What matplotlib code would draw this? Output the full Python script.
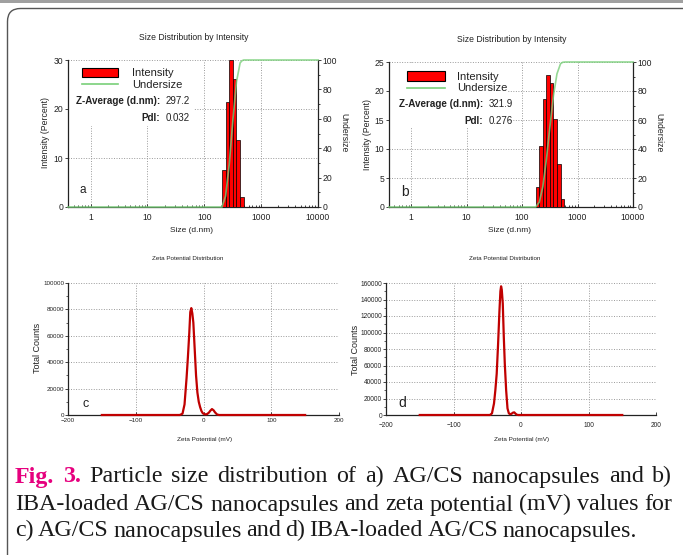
import matplotlib
matplotlib.use('Agg')
import matplotlib.pyplot as plt
from matplotlib.patches import Rectangle, FancyBboxPatch
from matplotlib.ticker import FixedLocator, NullFormatter, StrMethodFormatter, MultipleLocator

plt.rcParams['font.family'] = ['Liberation Sans', 'DejaVu Sans']

# ---- data ----
# size distribution (Malvern size classes, d.nm) and intensity (%)
size_a = [220.2, 255.0, 295.3, 342.0, 396.1, 458.7]
intensity_a = [7.5, 21.5, 30.0, 26.2, 13.6, 2.0]
under_size_a = [0.4, 204.7, 237.0, 274.6, 318.0, 368.3, 426.5, 460.0, 494.0, 530.0, 10000]
undersize_a = [0, 0, 7.5, 29.0, 59.0, 85.2, 98.0, 99.5, 100, 100, 100]

size_b = [190.1, 220.2, 255.0, 295.3, 342.0, 396.1, 458.7, 531.2]
intensity_b = [3.4, 10.6, 18.7, 22.7, 21.3, 15.2, 7.4, 1.3]
under_size_b = [0.4, 176.6, 204.7, 237.0, 274.6, 318.0, 368.3, 426.5, 494.0, 540.0, 600.0, 10000]
undersize_b = [0, 0, 3.4, 14.0, 32.7, 55.4, 76.7, 91.9, 98.8, 99.8, 100, 100]

size_ticks = [1, 10, 100, 1000, 10000]
size_ticklabels = ['1', '10', '100', '1000', '10000']

# zeta potential (mV) vs total counts
zeta_c = [-150, -35, -31, -28, -25, -23, -21, -19.5, -18, -16.5, -15, -13, -11, -9, -7, -5,
          -3, -1, 2, 5, 8, 10, 12.5, 15, 17, 20, 23, 150]
counts_c = [0, 0, 1000, 8000, 28000, 44000, 62000, 78000, 81000, 77000, 70000, 50000, 30000,
            17000, 10000, 6000, 3000, 1300, 500, 600, 1800, 3200, 4500, 3500, 2000, 400, 0, 0]

zeta_d = [-150, -46, -43, -40, -38, -36, -34, -32, -30.5, -29.5, -28.5, -27, -25.5, -24, -22,
          -20, -18, -16, -14, -12, -10, -8, -6, -4, 150]
counts_d = [0, 0, 2000, 14000, 30000, 50000, 85000, 125000, 150000, 156000, 152000, 135000,
            95000, 62000, 30000, 8000, 2000, 1000, 1500, 2800, 3200, 1500, 300, 0, 0]

zeta_ticks = [-200, -100, 0, 100, 200]

caption_lines = [
    "Fig. 3. Particle size distribution of a) AG/CS nanocapsules and b)",
    "IBA-loaded AG/CS nanocapsules and zeta potential (mV) values for",
    "c) AG/CS nanocapsules and d) IBA-loaded AG/CS nanocapsules.",
]

W, H = 683, 555
fig = plt.figure(figsize=(W / 100, H / 100), dpi=100)

RED = '#ff0000'
GREEN = '#79cf79'
DARK = '#222222'
GRID = dict(color='#9a9a9a', linestyle=(0, (1, 1.6)), linewidth=0.7)
EDGE = 1.0761  # half class width (ratio) on the log axis


def rect(l, t, r, b):
    return [l / W, 1 - b / H, (r - l) / W, (b - t) / H]


# background frame
bg = fig.add_axes([0, 0, 1, 1], zorder=-5)
bg.set_xlim(0, W)
bg.set_ylim(H, 0)
bg.axis('off')
bg.add_patch(FancyBboxPatch((7.5, 8.5), 690, 560, boxstyle='round,pad=0,rounding_size=13',
                            fc='white', ec='#555555', lw=1.0))
bg.add_patch(Rectangle((0, 0), W, 2.5, fc='#a0a0a0', ec='none'))


def size_panel(pos, classes, inten, usz, und, ymax, ystep, box):
    ax = fig.add_axes(pos)
    ax.set_xscale('log')
    ax.set_xlim(0.4, 10000)
    ax.set_ylim(0, ymax)
    lo = [c / EDGE for c in classes]
    wd = [c * EDGE - c / EDGE for c in classes]
    ax.bar(lo, inten, width=wd, align='edge', color=RED, edgecolor='black', linewidth=0.5, zorder=3)
    ax.xaxis.set_major_locator(FixedLocator(size_ticks))
    ax.set_xticklabels(size_ticklabels)
    ax.xaxis.set_minor_formatter(NullFormatter())
    ax.yaxis.set_major_locator(MultipleLocator(ystep))
    ax.set_axisbelow(True)
    ax.grid(True, which='major', **GRID)
    ax.add_patch(Rectangle((0.005, box[1]), box[0], 0.99 - box[1], transform=ax.transAxes,
                           fc='white', ec='none', zorder=1.2))
    for s in ['top', 'right']:
        ax.spines[s].set_visible(False)
    for s in ['left', 'bottom']:
        ax.spines[s].set_color(DARK)
        ax.spines[s].set_linewidth(0.9)
    ax.tick_params(axis='x', which='major', direction='in', length=2.5, width=0.6,
                   labelsize=6.2, pad=4, colors=DARK)
    ax.tick_params(axis='x', which='minor', direction='in', length=1.8, width=0.6, colors=DARK)
    ax.tick_params(axis='y', direction='out', length=2.5, width=0.6, labelsize=6.2, pad=1,
                   colors=DARK)

    ax2 = ax.twinx()
    ax2.set_ylim(0, 100)
    ax2.plot(usz, und, color=GREEN, lw=1.2, alpha=0.8, clip_on=False, zorder=4)
    for s in ['top', 'left', 'bottom']:
        ax2.spines[s].set_visible(False)
    ax2.spines['right'].set_color(DARK)
    ax2.spines['right'].set_linewidth(0.9)
    ax2.yaxis.set_major_locator(MultipleLocator(20))
    ax2.yaxis.set_minor_locator(MultipleLocator(10))
    ax2.tick_params(axis='y', which='major', direction='out', length=2.5, width=0.6,
                    labelsize=6.2, pad=1, colors=DARK)
    ax2.tick_params(axis='y', which='minor', direction='out', length=1.5, width=0.6, colors=DARK)
    return ax


def zeta_panel(pos, mv, counts, ymax, ystep, fs, xpad):
    ax = fig.add_axes(pos)
    ax.plot(mv, counts, color='#c00000', lw=1.6, clip_on=False, zorder=3,
            solid_joinstyle='round')
    ax.set_xlim(-200, 200)
    ax.set_ylim(0, ymax)
    ax.xaxis.set_major_locator(FixedLocator(zeta_ticks))
    ax.yaxis.set_major_locator(MultipleLocator(ystep))
    ax.yaxis.set_minor_locator(MultipleLocator(ystep / 2))
    ax.yaxis.set_major_formatter(StrMethodFormatter('{x:.0f}'))
    ax.set_axisbelow(True)
    ax.grid(True, which='major', **GRID)
    for s in ['top', 'right']:
        ax.spines[s].set_visible(False)
    for s in ['left', 'bottom']:
        ax.spines[s].set_color(DARK)
        ax.spines[s].set_linewidth(0.9)
    ax.tick_params(axis='x', direction='in', length=2, width=0.6, labelsize=fs, pad=xpad,
                   colors=DARK)
    ax.tick_params(axis='y', which='major', direction='out', length=2, width=0.6,
                   labelsize=fs, pad=0.8, colors=DARK)
    ax.tick_params(axis='y', which='minor', direction='out', length=1.3, width=0.5, colors=DARK)
    return ax


size_panel(rect(68, 60, 318, 207), size_a, intensity_a, under_size_a, undersize_a, 30, 10,
           (0.5, 0.55))
size_panel(rect(389, 62, 633, 207), size_b, intensity_b, under_size_b, undersize_b, 25, 5,
           (0.48, 0.55))
zeta_panel(rect(68, 283, 339, 415), zeta_c, counts_c, 100000, 20000, 4.5, 2.2)
zeta_panel(rect(386, 283, 656, 415), zeta_d, counts_d, 160000, 20000, 4.7, 5)

# overlay in pixel coordinates for titles, labels, legends
ov = fig.add_axes([0, 0, 1, 1], zorder=20)
ov.set_xlim(0, W)
ov.set_ylim(H, 0)
ov.axis('off')

def t(x, y, s, **kw):
    kw.setdefault('ha', 'center')
    kw.setdefault('va', 'center')
    kw.setdefault('color', DARK)
    return ov.text(x, y, s, **kw)

# titles and axis labels
t(194, 38, 'Size Distribution by Intensity', fontsize=6.2)
t(512, 40, 'Size Distribution by Intensity', fontsize=6.2)
t(192, 230, 'Size (d.nm)', fontsize=6)
t(510, 230, 'Size (d.nm)', fontsize=6)
t(45, 133, 'Intensity (Percent)', fontsize=6.2, rotation=90)
t(367, 135, 'Intensity (Percent)', fontsize=6.2, rotation=90)
t(344, 133, 'Undersize', fontsize=6.2, rotation=270)
t(659, 133, 'Undersize', fontsize=6.2, rotation=270)

t(188, 259, 'Zeta Potential Distribution', fontsize=4.5)
t(505, 259, 'Zeta Potential Distribution', fontsize=4.5)
t(205, 439, 'Zeta Potential (mV)', fontsize=4.6)
t(522, 439, 'Zeta Potential (mV)', fontsize=4.6)
t(38, 348, 'Total Counts', fontsize=6.5, rotation=90)
t(355, 350, 'Total Counts', fontsize=6.5, rotation=90)

# panel letters
t(83, 190, 'a', fontsize=8.5)
t(405, 192, 'b', fontsize=10)
t(86, 404, 'c', fontsize=9)
t(402, 403, 'd', fontsize=10)

# legends / statistics
for (rx, ry, rw, rh, ly, tx, ty1, ty2, zr, zy, py, zval, pval) in [
        (82, 68, 36, 9, 84.3, 132, 73.3, 85.0, 160, 101, 117.7, '297.2', '0.032'),
        (407, 71, 38, 10, 87.7, 457, 76.7, 88.3, 483, 104.3, 120.7, '321.9', '0.276')]:
    ov.add_patch(Rectangle((rx, ry), rw, rh, fc=RED, ec='black', lw=0.8))
    ov.plot([rx, rx + rw], [ly, ly], color=GREEN, lw=1.2)
    t(tx, ty1, 'Intensity', fontsize=8, ha='left')
    t(tx, ty2, 'Undersize', fontsize=8, ha='left')
    t(zr, zy, 'Z-Average (d.nm):', fontsize=7.1, ha='right', weight='bold')
    t(zr + 6, zy, zval, fontsize=7, ha='left')
    t(zr, py, 'PdI:', fontsize=7.1, ha='right', weight='bold')
    t(zr + 6, py, pval, fontsize=7, ha='left')

# caption, justified word by word like the journal layout
CAP = ['Liberation Serif', 'DejaVu Serif']
renderer = fig.canvas.get_renderer()
cap_fs = 17.3
x0 = 15
line_ends = [672, 672, 637]
baselines = [482.5, 510.5, 536.5]

for i, line in enumerate(caption_lines):
    words = line.split(' ')
    texts = []
    for j, w in enumerate(words):
        kw = dict(fontsize=cap_fs, family=CAP, color='#1a1a1a', ha='left', va='baseline')
        if i == 0 and j < 2:
            kw.update(color='#e6007e', weight='bold')
        texts.append(ov.text(0, baselines[i], w, **kw))
    widths = [tx.get_window_extent(renderer).width for tx in texts]
    gap = (line_ends[i] - x0 - sum(widths)) / (len(words) - 1)
    x = x0
    for tx, wdt in zip(texts, widths):
        tx.set_x(x)
        x += wdt + gap

fig.savefig('out.png', dpi=100)
